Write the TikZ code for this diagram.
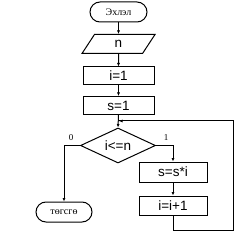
\documentclass[tikz,border=0pt]{standalone}
\usepackage{fontspec}
\setmainfont{Liberation Serif}
\newfontfamily\boxfont{Liberation Sans}
\usetikzlibrary{shapes.geometric,arrows.meta}
\begin{document}
\begin{tikzpicture}[x=1pt,y=-1pt,
  every node/.style={inner sep=0pt},
  term/.style={draw,line width=1pt,rounded corners=10pt,minimum width=57pt,minimum height=20pt,font=\fontsize{10}{11}\selectfont},
  proc/.style={draw,line width=1pt,minimum width=71pt,minimum height=18pt,font=\boxfont\fontsize{13.5}{14}\selectfont},
  io/.style={draw,line width=1pt,trapezium,trapezium left angle=75,trapezium right angle=105,minimum width=62pt,minimum height=19pt,trapezium stretches=true,font=\boxfont\fontsize{13.5}{14}\selectfont},
  dec/.style={draw,line width=1pt,diamond,aspect=2.1,minimum width=75pt,minimum height=35pt,font=\boxfont\fontsize{13.5}{14}\selectfont},
  lbl/.style={font=\fontsize{9}{10}\selectfont},
  arr/.style={line width=1pt,-{Latex[length=3.5pt,width=3pt]}},
  ln/.style={line width=1pt}]
\useasboundingbox (0,0) rectangle (252,238);
\node[term] (start) at (118.5,12) {Эхлэл};
\node[io,minimum width=73pt] (n) at (118.5,44) {n};
\node[proc] (i1) at (118.5,76) {i=1};
\node[proc] (s1) at (118.5,105.5) {s=1};
\node[dec] (d) at (118,145.5) {i<=n};
\node[proc,minimum width=68pt,minimum height=20pt] (ss) at (173,172) {s=s*i};
\node[proc,minimum width=68pt,minimum height=19pt] (ii) at (173,205.5) {i=i+1};
\node[term,minimum width=56pt] (end) at (64,212) {төгсгө};
\node[lbl] (l0) at (71,138) {0};
\node[lbl] (l1) at (166,138) {1};
\coordinate (j) at (118.5,121);
\draw[arr] (start) -- (n);
\draw[arr] (n) -- (i1);
\draw[arr] (i1) -- (s1);
\draw[arr] (s1.south) -- (d.north);
\draw[arr] (d.west) -| (end.north);
\draw[arr] (d.east) -| (ss.north);
\draw[arr] (ss) -- (ii);
\coordinate (r) at (233,230);
\coordinate (t) at (233,121);
\draw[ln] (ii.south) |- (r) -- (t) -- (j);
\draw[arr] (t) -- ([xshift=0.5pt]j);
\end{tikzpicture}
\end{document}
